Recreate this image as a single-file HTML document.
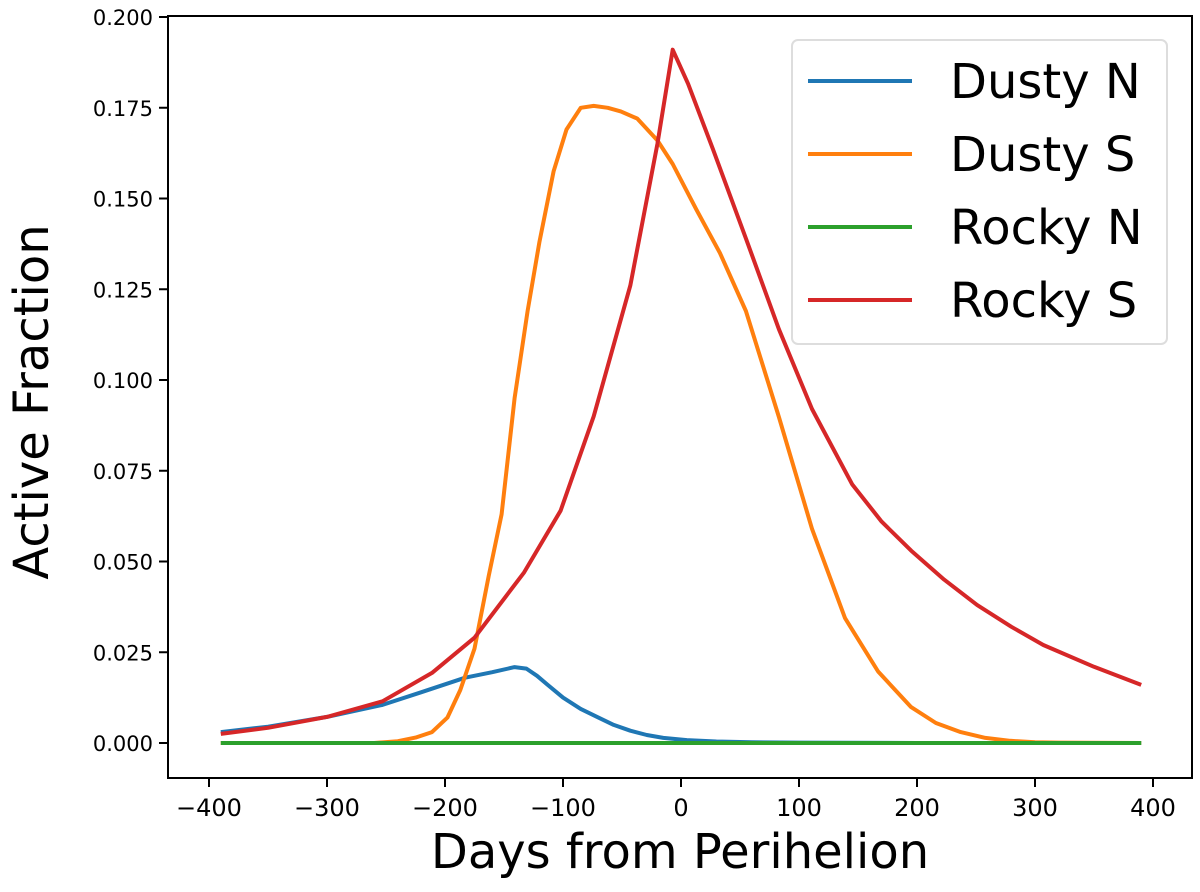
<!DOCTYPE html>
<html><head><meta charset="utf-8"><style>
html,body{margin:0;padding:0;background:#fff;}
svg{display:block;font-family:"DejaVu Sans","Liberation Sans",sans-serif;}
</style></head><body>
<svg id="chart" width="1200" height="892"></svg>
<script>
const dustyNDays=[-390,-350,-300,-253,-220,-183,-160,-141,-131,-122,-113,-100,-85,-70,-57,-43,-29,-15,5,30,60,100,200,300,390];
const dustyNVals=[0.003,0.0045,0.0072,0.0105,0.014,0.018,0.0195,0.0209,0.0205,0.0185,0.016,0.0125,0.0094,0.007,0.005,0.0034,0.0022,0.0014,0.0008,0.0004,0.0002,0.0001,0,0,0];
const dustySDays=[-390,-260,-240,-225,-211,-198,-187,-175,-163,-152,-141,-130,-120,-108,-97,-85,-74,-62,-51,-37,-20,-7,13,33,55,83,111,139,167,195,216,237,258,279,300,320,390];
const dustySVals=[0,0,0.0005,0.0015,0.003,0.007,0.0146,0.026,0.046,0.063,0.095,0.119,0.138,0.1575,0.169,0.175,0.1755,0.175,0.174,0.172,0.166,0.1595,0.147,0.135,0.119,0.0898,0.059,0.0344,0.0197,0.0099,0.0055,0.003,0.0014,0.0006,0.0002,0.0001,0];
const rockyNDays=[-390,390];
const rockyNVals=[0,0];
const rockySDays=[-390,-350,-300,-253,-211,-175,-133,-102,-74,-43,-20,-7,6,27,55,83,111,145,170,195,223,251,280,307,350,390];
const rockySVals=[0.0025,0.0042,0.0072,0.0115,0.0193,0.029,0.047,0.064,0.09,0.126,0.165,0.191,0.1816,0.1636,0.139,0.114,0.092,0.0713,0.061,0.053,0.045,0.038,0.032,0.027,0.021,0.016];
const xTicks=[-400,-300,-200,-100,0,100,200,300,400];
const yTicks=[0,0.025,0.05,0.075,0.1,0.125,0.15,0.175,0.2];
const yTickLabels=["0.000","0.025","0.050","0.075","0.100","0.125","0.150","0.175","0.200"];
const legendLabels=["Dusty N","Dusty S","Rocky N","Rocky S"];

const NS="http://www.w3.org/2000/svg";
const svg=document.getElementById('chart');
const L=168,R=1192,T=16,B=778;
const xs=d=>681+d*1.18;
const ys=v=>743-v*3630;
function mk(tag,attrs){const e=document.createElementNS(NS,tag);for(const k in attrs)e.setAttribute(k,attrs[k]);svg.appendChild(e);return e;}

const colors=["#1f77b4","#ff7f0e","#2ca02c","#d62728"];
const series=[[dustyNDays,dustyNVals],[dustySDays,dustySVals],[rockyNDays,rockyNVals],[rockySDays,rockySVals]];
const names=["dusty-n-line","dusty-s-line","rocky-n-line","rocky-s-line"];
series.forEach((s,i)=>{
  const p=s[0].map((d,j)=>(j?'L':'M')+xs(d).toFixed(1)+','+ys(s[1][j]).toFixed(1)).join('');
  const e=mk('path',{d:p,fill:'none',stroke:colors[i],'stroke-width':4,'stroke-linejoin':'round'});
  
  
});

const frame=mk('rect',{x:L,y:T,width:R-L,height:B-T,fill:'none',stroke:'#000','stroke-width':2});



xTicks.forEach(t=>{
  const x=xs(t);
  const tk=mk('line',{x1:x,x2:x,y1:B,y2:B+9,stroke:'#000','stroke-width':2});
  
  
  const tx=mk('text',{x:x,y:B+38,'text-anchor':'middle','font-size':24});
  tx.textContent=(t<0?'\u2212'+(-t):String(t));
  
  
});
yTicks.forEach((t,i)=>{
  const y=ys(t);
  const tk=mk('line',{x1:L-9,x2:L,y1:y,y2:y,stroke:'#000','stroke-width':2});
  
  
  const tx=mk('text',{x:L-15,y:y+8,'text-anchor':'end','font-size':21});
  tx.textContent=yTickLabels[i];
  
  
});
const xl=mk('text',{x:680,y:868,'text-anchor':'middle','font-size':48});
xl.textContent='Days from Perihelion';


const yl=mk('text',{x:0,y:0,'text-anchor':'middle','font-size':48,transform:'translate(48,402) rotate(-90)'});
yl.textContent='Active Fraction';



const lb=mk('rect',{x:792,y:40,width:375,height:304,rx:6,fill:'#fff',stroke:'#ddd','stroke-width':2});


legendLabels.forEach((n,i)=>{
  const y=81+i*73;
  const ln=mk('line',{x1:808,x2:912,y1:y,y2:y,stroke:colors[i],'stroke-width':4});
  
  
  const tx=mk('text',{x:950,y:y+17,'font-size':48});
  tx.textContent=n;
  
  
});
</script>
</body></html>
